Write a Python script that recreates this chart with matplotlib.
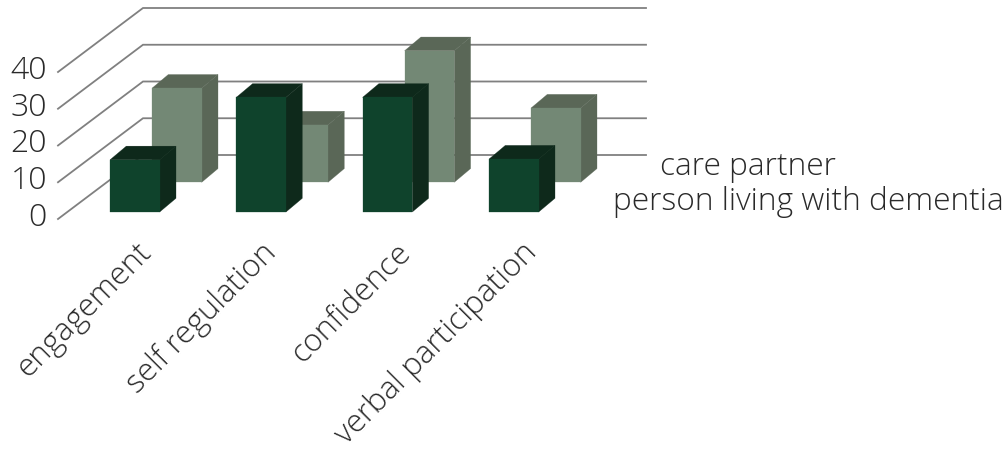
import matplotlib
matplotlib.use("Agg")
import matplotlib.pyplot as plt
from matplotlib.patches import Polygon

plt.rcParams['font.family'] = ['Open Sans', 'DejaVu Sans']

categories = ["engagement", "self regulation", "confidence", "verbal participation"]
person_living = [14.2, 31.2, 31.2, 14.4]
care_partner = [25.6, 15.6, 35.8, 20.2]
yticks = [0, 10, 20, 30, 40]
series_names = ["care partner", "person living with dementia"]

# the chart is fake 3D, so everything is projected by hand onto a pixel canvas
floor_x, floor_y = 58, 219
wall_dx, wall_dy = 85, -64
wall_right = 646
per_unit = 3.675
bar_w = 49.7
bar_dx, bar_dy = 16.3, -13.7
slot_x = [110, 236.3, 362.6, 489]
label_nudge = [-5, -6, 2, 2]


def project_value(v):
    return -per_unit * v


def draw_bar(ax, x, base, value, front, shade):
    top = base + project_value(value)
    r = x + bar_w
    side = [(r, base), (r + bar_dx, base + bar_dy), (r + bar_dx, top + bar_dy), (r, top)]
    lid = [(x, top), (r, top), (r + bar_dx, top + bar_dy), (x + bar_dx, top + bar_dy)]
    face = [(x, base), (r, base), (r, top), (x, top)]
    ax.add_patch(Polygon(side, closed=True, fc=shade, ec=shade, lw=0.2, zorder=3))
    ax.add_patch(Polygon(lid, closed=True, fc=shade, ec=shade, lw=0.2, zorder=3))
    ax.add_patch(Polygon(face, closed=True, fc=front, ec=front, lw=0.2, zorder=3))


fig = plt.figure(figsize=(10.08, 4.49), dpi=100)
ax = fig.add_axes([0, 0, 1, 1])
ax.set_xlim(0, 1008)
ax.set_ylim(449, 0)
ax.axis('off')

for t in yticks:
    y = floor_y + project_value(t)
    ax.plot([floor_x, floor_x + wall_dx, wall_right], [y, y + wall_dy, y + wall_dy],
            color='#808080', lw=1.3, solid_joinstyle='miter', zorder=1)
    ax.text(47, y - 1, str(t), ha='right', va='center', fontsize=23,
            fontweight='light', color='#2a2a2a')

# back row first, the front row covers it
for x, v in zip(slot_x, care_partner):
    draw_bar(ax, x + 42, 182.3, v, '#738875', '#5a6757')
for x, v in zip(slot_x, person_living):
    draw_bar(ax, x, 212, v, '#0f432c', '#0e291b')

for x, nudge, name in zip(slot_x, label_nudge, categories):
    ax.text(x + 30 + nudge, 237, name, rotation=45, rotation_mode='anchor', ha='right', va='top',
            fontsize=22.6, fontweight='light', color='#2a2a2a')

ax.text(660, 167, series_names[0], ha='left', va='center', fontsize=22.8,
        fontweight='light', color='#2a2a2a')
ax.text(613, 202, series_names[1], ha='left', va='center', fontsize=22.8,
        fontweight='light', color='#2a2a2a')

fig.savefig('out.png', dpi=100)
